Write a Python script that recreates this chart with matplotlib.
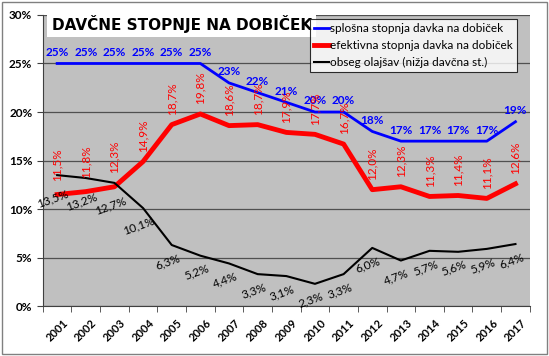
import matplotlib
matplotlib.use('agg')
import matplotlib.pyplot as plt
from matplotlib.patches import Rectangle
import numpy as np

plt.rcParams['font.family'] = ['Lato', 'DejaVu Sans']

years = ['2001', '2002', '2003', '2004', '2005', '2006', '2007', '2008', '2009',
         '2010', '2011', '2012', '2013', '2014', '2015', '2016', '2017']
splosna = [25, 25, 25, 25, 25, 25, 23, 22, 21, 20, 20, 18, 17, 17, 17, 17, 19]
efektivna = [11.5, 11.8, 12.3, 14.9, 18.7, 19.8, 18.6, 18.7, 17.9, 17.7, 16.7,
             12.0, 12.3, 11.3, 11.4, 11.1, 12.6]
olajsave = [13.5, 13.2, 12.7, 10.1, 6.3, 5.2, 4.4, 3.3, 3.1, 2.3, 3.3,
            6.0, 4.7, 5.7, 5.6, 5.9, 6.4]

fig = plt.figure(figsize=(5.49, 3.56), dpi=100)
fig.patches.append(Rectangle((0.004, 0.006), 0.992, 0.988, transform=fig.transFigure,
                             fill=False, edgecolor='#808080', linewidth=1))
ax = fig.add_axes([0.078, 0.140, 0.887, 0.818])
ax.set_facecolor('#C0C0C0')

x = np.arange(len(years))
ax.plot(x, splosna, color='#0000FF', linewidth=2, label='splošna stopnja davka na dobiček', zorder=3)
ax.plot(x, efektivna, color='#FF0000', linewidth=3.5, label='efektivna stopnja davka na dobiček', zorder=3)
ax.plot(x, olajsave, color='black', linewidth=1.5, label='obseg olajšav (nižja davčna st.)', zorder=3)

def fmt(v):
    return ('%.1f%%' % v).replace('.', ',')

for i in range(len(years)):
    ax.annotate('%d%%' % splosna[i], (x[i], splosna[i]), xytext=(0, 4), textcoords='offset points',
                ha='center', va='bottom', color='#0000FF', fontsize=8.5, fontweight='bold', zorder=4)
    dy = 10 if i < 3 else 7
    ax.annotate(fmt(efektivna[i]), (x[i], efektivna[i]), xytext=(0, dy), textcoords='offset points',
                ha='center', va='bottom', rotation=90, color='#FF0000', fontsize=8.5, zorder=4)
    dy = -9 if i < 3 else -5
    ax.annotate(fmt(olajsave[i]), (x[i], olajsave[i]), xytext=(-3, dy), textcoords='offset points',
                ha='center', va='top', rotation=20, color='black', fontsize=8.5, zorder=4)

ax.set_xlim(-0.5, len(years) - 0.5)
ax.set_ylim(0, 30)
ax.set_yticks([0, 5, 10, 15, 20, 25, 30])
ax.set_yticklabels(['0%', '5%', '10%', '15%', '20%', '25%', '30%'], fontsize=8.5, fontweight='bold')
ax.set_xticks(x)
ax.set_xticklabels(years, rotation=45, fontsize=8, fontweight='bold', ha='center')
ax.set_xticks(np.arange(-0.5, len(years), 1), minor=True)
ax.tick_params(axis='x', which='major', length=0, pad=8)
ax.tick_params(axis='x', which='minor', length=4, color='#404040')
ax.tick_params(axis='y', length=4, color='#404040')
ax.grid(axis='y', color='#505050', linewidth=0.9, zorder=1)
for s in ['top', 'right']:
    ax.spines[s].set_visible(False)
ax.spines['left'].set_color('#404040')
ax.spines['bottom'].set_color('#404040')

ax.text(0.018, 1.0, 'DAVČNE STOPNJE NA DOBIČEK', transform=ax.transAxes, ha='left', va='top',
        fontsize=11, fontweight='bold', color='black', zorder=5, family='DejaVu Sans',
        bbox=dict(facecolor='white', edgecolor='none', pad=3))

leg = ax.legend(loc='upper right', bbox_to_anchor=(0.985, 1.007), fontsize=8.5, frameon=True,
                fancybox=False, handlelength=1.2, handletextpad=0.1, borderpad=0.35,
                labelspacing=0.5)
leg.get_frame().set_edgecolor('black')
leg.get_frame().set_linewidth(0.8)
leg.set_zorder(6)

fig.savefig('out.png', dpi=100)
